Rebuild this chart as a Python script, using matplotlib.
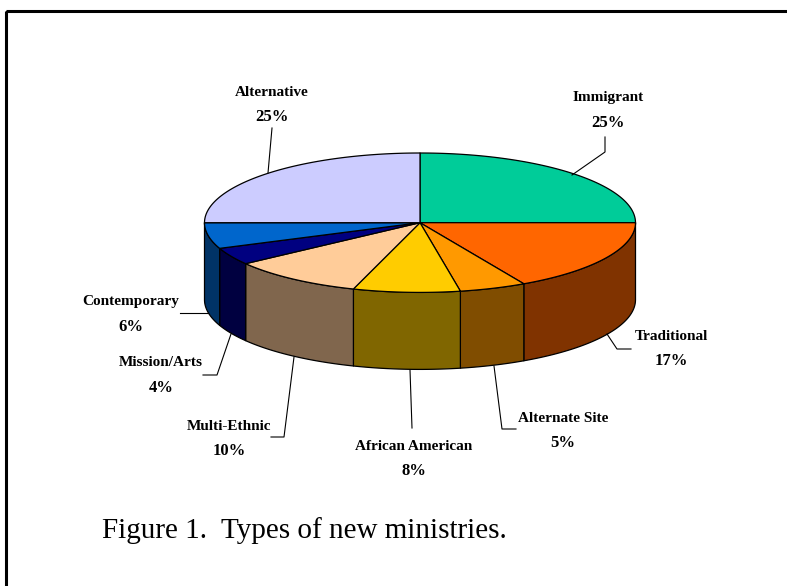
import numpy as np
import matplotlib
matplotlib.use("Agg")
import matplotlib.pyplot as plt
from matplotlib.patches import Polygon, Rectangle
from matplotlib.colors import to_rgb

# ---- data ----
categories = ["Immigrant", "Traditional", "Alternate Site", "African American",
              "Multi-Ethnic", "Mission/Arts", "Contemporary", "Alternative"]
percentages = [25, 17, 5, 8, 10, 4, 6, 25]
top_colors = ["#00CC99", "#FF6600", "#FF9900", "#FFCC00",
              "#FFCC99", "#000080", "#0066CC", "#CCCCFF"]
caption = "Figure 1.  Types of new ministries."

# ---- layout (pixel space) ----
W, H = 787, 586
cx, cy = 420.0, 222.7
rx, ry = 215.5, 69.7
depth = 77.0

# label text centres (x, y of name line) and leader-line polylines
label_pos = {
    "Immigrant": (608, 98),
    "Traditional": (671, 336),
    "Alternate Site": (563, 418),
    "African American": (414, 446),
    "Multi-Ethnic": (229, 426),
    "Mission/Arts": (161, 363),
    "Contemporary": (131, 302),
    "Alternative": (272, 92),
}
leaders = {
    "Immigrant": [(572, 175), (605, 152), (605, 137)],
    "Traditional": [(607, 334), (617, 349), (631, 349)],
    "Alternate Site": [(494, 366), (502, 429), (516, 429)],
    "African American": [(410, 370), (412, 428)],
    "Multi-Ethnic": [(294, 357), (284, 437), (271, 437)],
    "Mission/Arts": [(231, 334), (217, 375), (203, 375)],
    "Contemporary": [(208, 313), (180, 313)],
    "Alternative": [(268, 173), (272, 128)],
}

fig = plt.figure(figsize=(W / 100, H / 100), dpi=100)
ax = fig.add_axes([0, 0, 1, 1])
ax.set_xlim(0, W)
ax.set_ylim(H, 0)
ax.axis("off")

# border (extends beyond the right and bottom edges)
ax.add_patch(Rectangle((6, 11), 900, 700, fill=False, lw=2.2, ec="black", zorder=1))


def pt(theta_deg, dy=0.0):
    t = np.radians(theta_deg)
    return cx + rx * np.cos(t), cy - ry * np.sin(t) + dy


# slice angle ranges (clockwise from 90 degrees)
total = float(sum(percentages))
angles = []
start = 90.0
for p in percentages:
    end = start - 360.0 * p / total
    angles.append((start, end))
    start = end

# side walls: visible part is theta in [-180, 0]
for (a0, a1), col in zip(angles, top_colors):
    hi = min(a0, 0.0)
    lo = max(a1, -180.0)
    if hi <= lo:
        continue
    ts = np.linspace(hi, lo, 60)
    top = [pt(t) for t in ts]
    bot = [pt(t, depth) for t in ts[::-1]]
    side_col = tuple(c * 0.5 for c in to_rgb(col))
    ax.add_patch(Polygon(top + bot, closed=True, fc=side_col, ec="black",
                         lw=0.9, joinstyle="round", zorder=2))

# top surface
for (a0, a1), col in zip(angles, top_colors):
    ts = np.linspace(a0, a1, 100)
    verts = [(cx, cy)] + [pt(t) for t in ts]
    ax.add_patch(Polygon(verts, closed=True, fc=col, ec="black",
                         lw=0.9, joinstyle="round", zorder=3))

# labels and leader lines
for name, p in zip(categories, percentages):
    x, y = label_pos[name]
    ax.text(x, y, name, ha="center", va="center", fontsize=11,
            fontweight="bold", family="Liberation Serif", zorder=5)
    ax.text(x, y + 25, f"{p}%", ha="center", va="center", fontsize=12,
            fontweight="bold", family="Liberation Serif", zorder=5)
    xs, ys = zip(*leaders[name])
    ax.plot(xs, ys, color="black", lw=0.8, zorder=4)

ax.text(102, 531, caption, ha="left", va="center", fontsize=21,
        family="Liberation Serif", zorder=5)

fig.savefig("out.png", dpi=100)
